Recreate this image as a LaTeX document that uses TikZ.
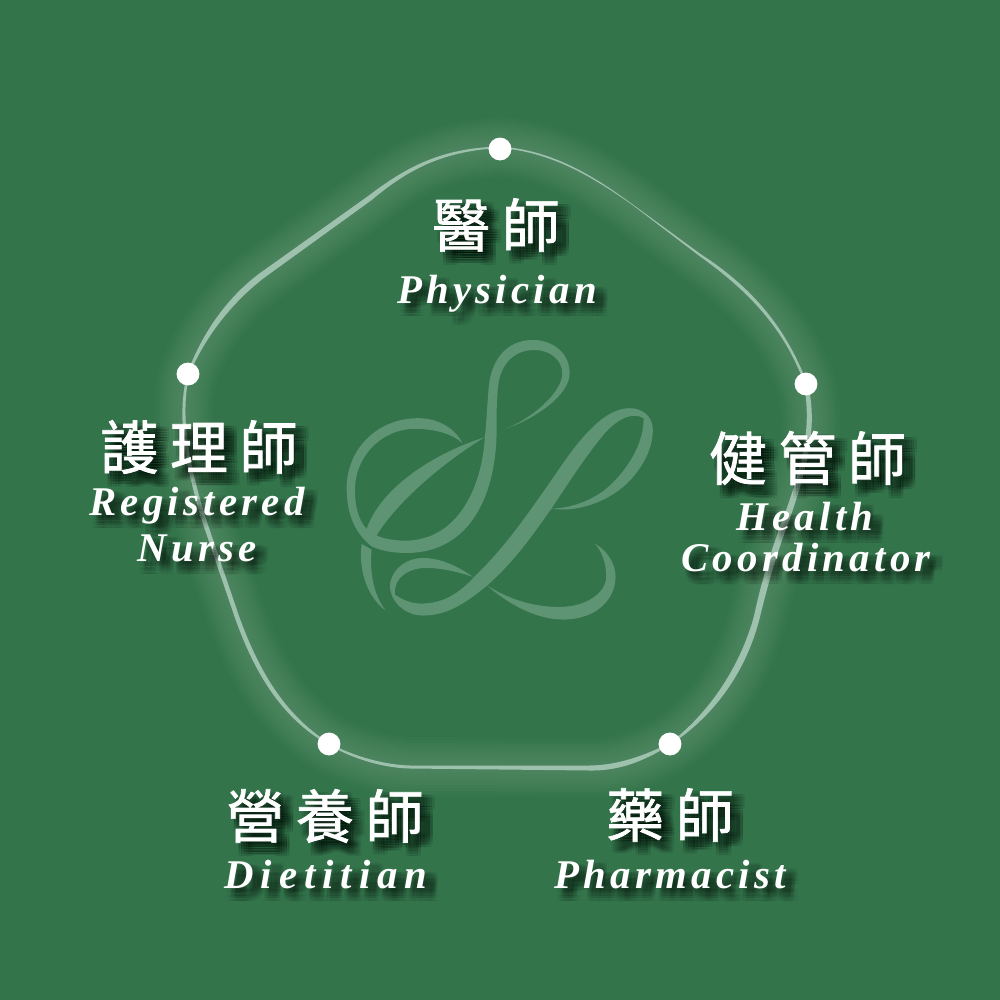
\documentclass[tikz,border=0pt]{standalone}
\usepackage{fontspec}
\usepackage{xcolor}
\setmainfont{Liberation Serif}
\newfontfamily\cjkfont[LetterSpace=20,FakeBold=1.2]{Noto Sans CJK TC}
\newfontfamily\enfont[LetterSpace=10.5]{Liberation Serif}
\definecolor{bg}{HTML}{33744B}
\definecolor{logo}{HTML}{5E9374}
\definecolor{rib}{HTML}{9DC1AC}
\tikzset{
  dot/.style={circle, fill=white, inner sep=0pt, minimum size=6.5pt},
  zh/.style={text=white, inner sep=0pt, font=\cjkfont\fontsize{16.5}{20}\selectfont},
  en/.style={text=white, inner sep=0pt, anchor=base, font=\enfont\bfseries\itshape\fontsize{11.6}{14}\selectfont},
  enwide/.style={en, font=\enfont\bfseries\itshape\fontsize{11.6}{14}\selectfont\addfontfeature{LetterSpace=17}},
  ribbon/.style={fill=rib, draw=none},
  glow/.style={draw=white, line join=round},
}
% label with a soft shadow under it
\newcommand{\shadowed}[5]{%
  \foreach \dx in {3,5.5,8,10.5,13}
    \foreach \dy in {3,5.5,8,10.5,13}
      \node[#4, text=black, text opacity=0.045, xshift=\dx*0.2845pt, yshift=-\dy*0.2845pt] at (#2,#3) {#5};
  \node[#4] (#1) at (#2,#3) {#5};
}

\begin{document}
\begin{tikzpicture}[x=0.01cm, y=-0.01cm]
  \fill[bg] (0,0) rectangle (1000,1000);
  \useasboundingbox (0,0) rectangle (1000,1000);

  % glow around the ring
  \foreach \w in {60,54,48,42,36,30,24,18,12,6}
    \draw[glow, line width=\w*0.2845pt, opacity=0.014] (500,147)
      .. controls (550,150) and (590,174) .. (633,205) -- (700,255)
      .. controls (750,289) and (785,327) .. (806,384)
      .. controls (815,420) and (812,455) .. (787,517)
      .. controls (777,545) and (767,576) .. (757,617)
      .. controls (745,662) and (722,710) .. (670,744)
      .. controls (648,756) and (622,768) .. (590,768) -- (410,767)
      .. controls (385,766) and (355,758) .. (329,744)
      .. controls (290,720) and (260,681) .. (237,617) -- (203,517)
      .. controls (186,460) and (178,415) .. (188,374)
      .. controls (206,327) and (237,292) .. (267,272) -- (370,198)
      .. controls (405,170) and (440,150) .. (500,147) -- cycle;

  % ring, one tapered piece between two dots
  \fill[ribbon] (187,374) .. controls (205,325) and (235,290) .. (265,269.5) -- (368.5,195.8)
    .. controls (405,168) and (440,148) .. (500,146.5) -- (500,148)
    .. controls (440,151) and (405,172) .. (371.5,200.2) -- (268.7,274.5)
    .. controls (240,295) and (208,330) .. (189.5,374) -- cycle;
  \fill[ribbon] (500,146.5) .. controls (550,150) and (590,173) .. (633.2,204.8) -- (700.7,254.1)
    .. controls (750,286) and (785,325) .. (807.5,384) -- (804.5,384)
    .. controls (785,330) and (750,292) .. (699.3,255.9) -- (632.8,205.2)
    .. controls (590,175) and (550,152) .. (500,148) -- cycle;
  \fill[ribbon] (808,384) .. controls (816,420) and (812,455) .. (790,518)
    .. controls (780,545) and (770,575) .. (760,617)
    .. controls (748,665) and (720,712) .. (670,745) -- (670,743)
    .. controls (715,708) and (742,660) .. (754,616)
    .. controls (762,578) and (773,545) .. (784,516)
    .. controls (805,458) and (811,425) .. (804,384) -- cycle;
  \fill[ribbon] (670,745) .. controls (650,757) and (625,771) .. (590,770.5) -- (410,768.5)
    .. controls (385,768) and (355,760) .. (329,745) -- (329,743)
    .. controls (355,757) and (385,764.8) .. (410,765.5) -- (590,765.5)
    .. controls (620,765) and (645,755) .. (670,743) -- cycle;
  \fill[ribbon] (329,743) .. controls (290,718) and (262,680) .. (239,616) -- (205,516)
    .. controls (188,460) and (180,415) .. (189.5,374) -- (187,374)
    .. controls (177,415) and (184,460) .. (201,518) -- (235,618)
    .. controls (258,683) and (288,722) .. (329,745) -- cycle;

  % monogram in the middle
  \begin{scope}[shift={(340,330)}, x=0.00333cm, y=-0.00333cm]
    \fill[logo] (495,298) .. controls (590,265) and (690,195) .. (690,130)
      .. controls (690,65) and (635,30) .. (580,30)
      .. controls (500,30) and (455,90) .. (447,170)
      .. controls (442,230) and (440,280) .. (435,325)
      .. controls (425,480) and (350,630) .. (200,633)
      .. controls (165,633) and (130,628) .. (110,617)
      .. controls (170,520) and (300,405) .. (435,322)
      .. controls (270,375) and (120,480) .. (80,598)
      .. controls (55,570) and (45,530) .. (45,480)
      .. controls (45,380) and (125,297) .. (225,297)
      .. controls (280,297) and (335,310) .. (368,340)
      .. controls (345,295) and (295,265) .. (235,265)
      .. controls (110,265) and (20,360) .. (20,475)
      .. controls (20,560) and (50,615) .. (95,650)
      .. controls (125,665) and (165,670) .. (200,670)
      .. controls (370,670) and (460,530) .. (470,330)
      .. controls (472,280) and (468,240) .. (475,170)
      .. controls (482,100) and (525,60) .. (585,60)
      .. controls (630,60) and (668,90) .. (668,130)
      .. controls (668,190) and (570,270) .. (495,298) -- cycle;
    \fill[logo] (65,643) .. controls (55,720) and (80,800) .. (137,843)
      .. controls (105,800) and (88,740) .. (95,660) -- cycle;
    \fill[logo] (635,537) .. controls (720,550) and (830,510) .. (890,430)
      .. controls (925,385) and (940,340) .. (940,300)
      .. controls (940,260) and (910,235) .. (870,235)
      .. controls (800,235) and (730,310) .. (650,430)
      .. controls (580,530) and (500,650) .. (405,740)
      .. controls (360,790) and (310,822) .. (245,822)
      .. controls (215,822) and (190,812) .. (165,795)
      .. controls (160,745) and (205,715) .. (260,715)
      .. controls (300,715) and (350,725) .. (400,742)
      .. controls (340,700) and (290,685) .. (250,685)
      .. controls (190,685) and (150,730) .. (150,770)
      .. controls (150,810) and (190,858) .. (250,858)
      .. controls (330,858) and (390,810) .. (442,768)
      .. controls (520,835) and (600,870) .. (670,870)
      .. controls (770,870) and (828,810) .. (828,740)
      .. controls (828,700) and (800,660) .. (765,642)
      .. controls (785,660) and (800,700) .. (800,740)
      .. controls (800,790) and (740,832) .. (660,832)
      .. controls (580,832) and (510,810) .. (442,768)
      .. controls (530,690) and (590,600) .. (635,537)
      .. controls (680,470) and (740,375) .. (800,305)
      .. controls (835,270) and (860,258) .. (885,258)
      .. controls (895,258) and (905,260) .. (912,265)
      .. controls (915,340) and (860,430) .. (790,485)
      .. controls (730,525) and (680,535) .. (635,537) -- cycle;
  \end{scope}

  % dots on the ring
  \node[dot] (top) at (500,149) {};
  \node[dot] (right) at (806,384) {};
  \node[dot] (lowright) at (670,744) {};
  \node[dot] (lowleft) at (329,744) {};
  \node[dot] (left) at (188,374) {};

  % labels
  \shadowed{physzh}{496}{225}{zh}{醫師}
  \shadowed{physen}{497}{303}{en}{Physician}
  \shadowed{coordzh}{807.5}{458}{zh}{健管師}
  \shadowed{coorden}{805}{530}{en}{Health}
  \shadowed{coorden2}{806}{571}{en}{Coordinator}
  \shadowed{nursezh}{199}{447}{zh}{護理師}
  \shadowed{nurseen}{197}{515}{en}{Registered}
  \shadowed{nurseen2}{197}{561}{en}{Nurse}
  \shadowed{dietzh}{325}{816}{zh}{營養師}
  \shadowed{dieten}{326}{888}{enwide}{Dietitian}
  \shadowed{pharmzh}{670}{815}{zh}{藥師}
  \shadowed{pharmen}{670}{888}{en}{Pharmacist}
\end{tikzpicture}
\end{document}
